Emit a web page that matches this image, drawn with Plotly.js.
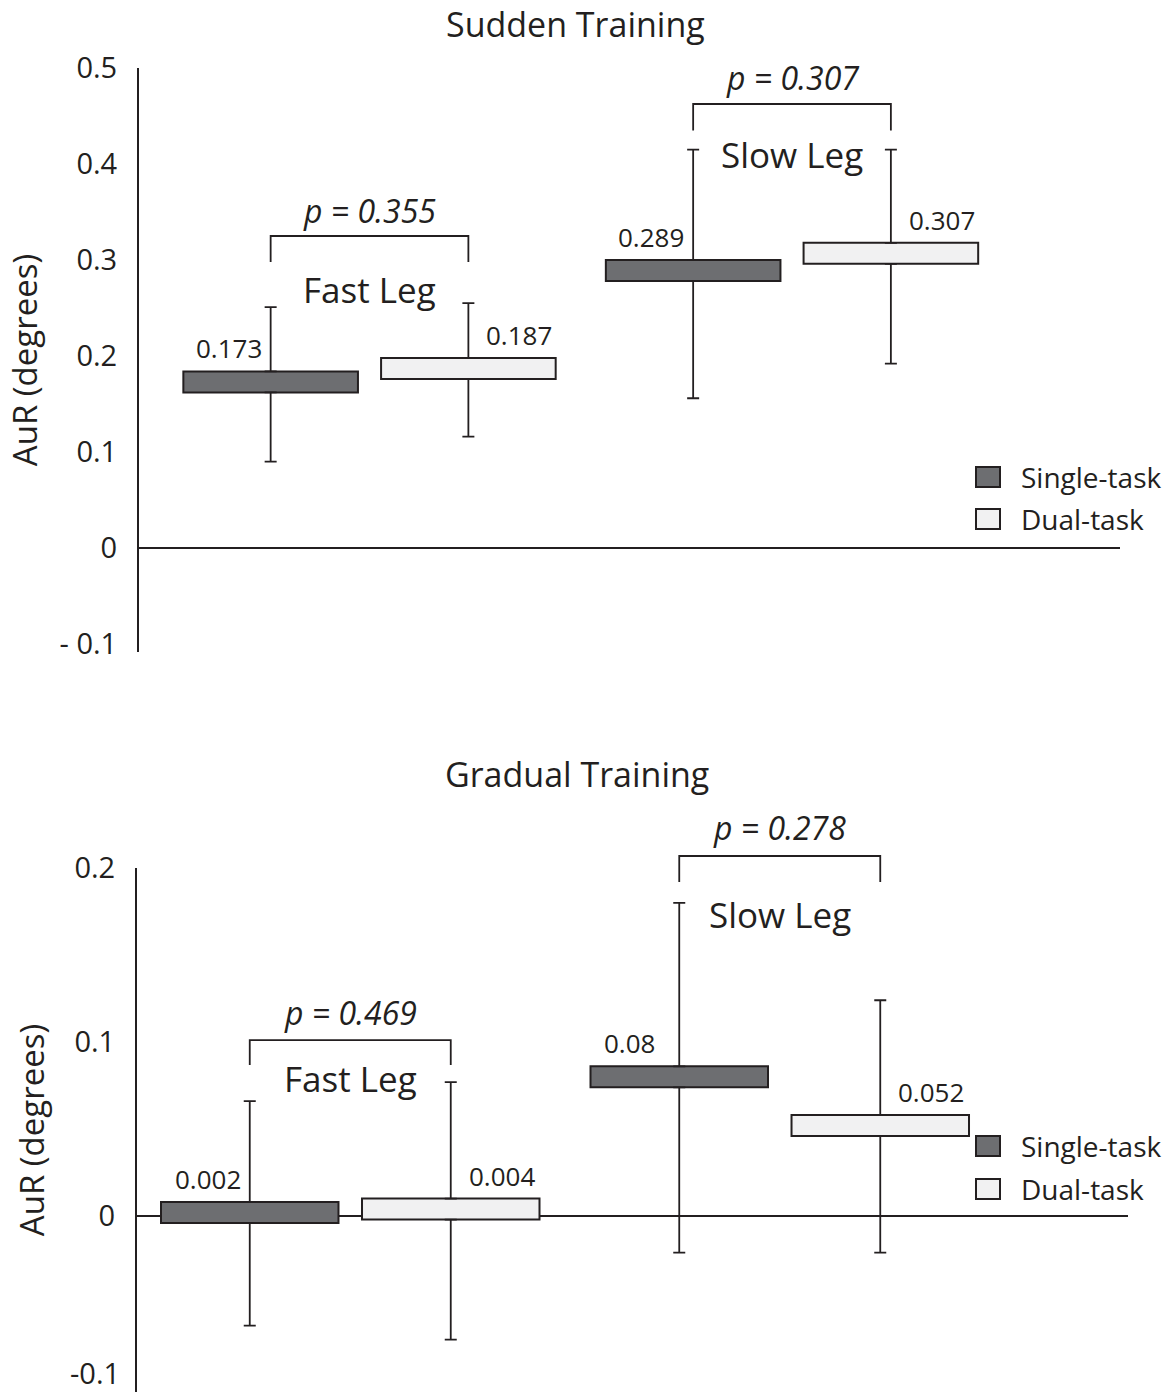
<!DOCTYPE html>
<html>
<head>
<meta charset="utf-8">
<script src="https://cdn.plot.ly/plotly-3.0.1.min.js"></script>
<style>
  html, body { margin: 0; padding: 0; background: #ffffff; }
  #chart { width: 1173px; height: 1397px; }
</style>
</head>
<body>
<div id="chart"></div>
<script>
// ---- data -------------------------------------------------------------
const legs = ["Fast Leg", "Slow Leg"];
const tasks = ["Single-task", "Dual-task"];
const panelTitles = ["Sudden Training", "Gradual Training"];

// Sudden training: mean AuR (degrees) and whisker ends
const suddenSingle = [0.173, 0.289];
const suddenDual = [0.187, 0.307];
const suddenSingleHigh = [0.251, 0.415];
const suddenSingleLow = [0.090, 0.156];
const suddenDualHigh = [0.255, 0.415];
const suddenDualLow = [0.116, 0.192];
const suddenP = ["0.355", "0.307"];

// Gradual training
const gradualSingle = [0.002, 0.08];
const gradualDual = [0.004, 0.052];
const gradualSingleHigh = [0.066, 0.180];
const gradualSingleLow = [-0.063, -0.021];
const gradualDualHigh = [0.077, 0.124];
const gradualDualLow = [-0.071, -0.021];
const gradualP = ["0.469", "0.278"];

// y tick labels
const suddenTickVals = [-0.1, 0, 0.1, 0.2, 0.3, 0.4, 0.5];
const suddenTickText = ["- 0.1", "0", "0.1", "0.2", "0.3", "0.4", "0.5"];
const gradualTickVals = [0, 0.1, 0.2];
const gradualTickText = ["0", "0.1", "0.2"];
// bottom-edge label of the gradual panel (lifted so it stays on the page)
const gradualEdgeTickVal = -0.1;
const gradualEdgeTickText = "-0.1";

// ---- styling / geometry ----------------------------------------------
const W = 1173, H = 1397;
const INK = "#231f20";
const FONT = "Open Sans, Noto Sans, sans-serif";
const FILL = { "Single-task": "#6d6e71", "Dual-task": "#f1f1f2" };
const BOX_PX = 21;               // box height in px (border excluded)
const BARGAP = 0.064, BARGROUPGAP = 0.117;
const OFF = (1 - BARGAP) / 4;    // centre offset of each box inside its leg group
const TICK_SIZE = 29;

const px2x = p => p / W;
const px2y = p => 1 - p / H;

const panels = [
  {
    suffix: "", title: panelTitles[0], titlePx: [575.5, 24],
    xPx: [139, 1120], yPx: [652, 68],
    xRange: [-0.5456, 1.7763], yRange: [-0.1083, 0.5],
    tickvals: suddenTickVals, ticktext: suddenTickText, titleStandoff: 12,
    series: [
      { task: tasks[0], mean: suddenSingle, hi: suddenSingleHigh, lo: suddenSingleLow },
      { task: tasks[1], mean: suddenDual, hi: suddenDualHigh, lo: suddenDualLow }
    ],
    p: suddenP,
    bracketTop: [0.325, 0.4625], bracketFoot: [0.298, 0.435],
    pY: [0.352, 0.4896], legY: [0.2688, 0.4094],
    legendPx: [477, 519]
  },
  {
    suffix: "2", title: panelTitles[1], titlePx: [576.5, 774],
    xPx: [137, 1128], yPx: [1392, 868],
    xRange: [-0.4965, 1.8108], yRange: [-0.1011, 0.2],
    tickvals: gradualTickVals, ticktext: gradualTickText, titleStandoff: 20,
    edgeTick: { val: gradualEdgeTickVal, text: gradualEdgeTickText, lift: 18 },
    series: [
      { task: tasks[0], mean: gradualSingle, hi: gradualSingleHigh, lo: gradualSingleLow },
      { task: tasks[1], mean: gradualDual, hi: gradualDualHigh, lo: gradualDualLow }
    ],
    p: gradualP,
    bracketTop: [0.1011, 0.2069], bracketFoot: [0.0868, 0.192],
    pY: [0.1172, 0.223], legY: [0.0793, 0.173],
    legendPx: [1146, 1189]
  }
];

const traces = [];
const shapes = [];
const annotations = [];
const layout = {
  width: W, height: H,
  margin: { l: 0, r: 0, t: 0, b: 0 },
  paper_bgcolor: "#ffffff", plot_bgcolor: "rgba(0,0,0,0)",
  font: { family: FONT, color: INK },
  showlegend: false,
  barmode: "group", bargap: BARGAP, bargroupgap: BARGROUPGAP,
  scattermode: "group", scattergap: BARGAP,
  shapes: shapes, annotations: annotations
};

panels.forEach(pn => {
  const xa = "x" + pn.suffix, ya = "y" + pn.suffix;
  const yDom = [px2y(pn.yPx[0]), px2y(pn.yPx[1])];
  const ySpan = pn.yRange[1] - pn.yRange[0];
  const halfH = BOX_PX / 2 * ySpan / (pn.yPx[0] - pn.yPx[1]);
  const toPaper = v => yDom[0] + (v - pn.yRange[0]) / ySpan * (yDom[1] - yDom[0]);

  layout["xaxis" + pn.suffix] = {
    domain: [px2x(pn.xPx[0]), px2x(pn.xPx[1])], anchor: ya,
    type: "category", categoryorder: "array", categoryarray: legs,
    range: pn.xRange, showline: false, showgrid: false, zeroline: false,
    showticklabels: false, ticks: "", fixedrange: true
  };
  layout["yaxis" + pn.suffix] = {
    domain: yDom, anchor: xa, range: pn.yRange,
    showline: true, linecolor: INK, linewidth: 2,
    showgrid: false, zeroline: true, zerolinecolor: INK, zerolinewidth: 2,
    ticks: "", tickvals: pn.tickvals, ticktext: pn.ticktext,
    tickfont: { size: TICK_SIZE, color: INK }, ticklabelstandoff: 14,
    ticklabeloverflow: "allow",
    title: { text: "AuR (degrees)", font: { size: 33, color: INK }, standoff: pn.titleStandoff },
    fixedrange: true
  };

  if (pn.edgeTick) {
    annotations.push({
      xref: "paper", yref: ya, x: px2x(pn.xPx[0] - 15), y: pn.edgeTick.val,
      text: pn.edgeTick.text, showarrow: false, xanchor: "right", yanchor: "middle",
      yshift: pn.edgeTick.lift, font: { size: TICK_SIZE, color: INK }
    });
  }

  pn.series.forEach((s, k) => {
    const grp = s.task + pn.suffix;
    // box centred on the mean
    traces.push({
      type: "bar", name: s.task, x: legs,
      y: s.mean.map(() => 2 * halfH),
      base: s.mean.map(v => v - halfH),
      xaxis: xa, yaxis: ya, offsetgroup: grp, alignmentgroup: "g" + pn.suffix,
      marker: { color: FILL[s.task], line: { color: INK, width: 2 } },
      customdata: s.mean,
      hovertemplate: "%{x}<br>" + s.task + ": %{customdata}<extra></extra>"
    });
    // upper whisker from the box top
    traces.push({
      type: "scatter", mode: "markers", name: s.task + " upper", x: legs,
      y: s.mean.map(v => v + halfH),
      xaxis: xa, yaxis: ya, offsetgroup: grp, alignmentgroup: "g" + pn.suffix,
      marker: { size: 1, opacity: 0 }, hoverinfo: "skip",
      error_y: { type: "data", symmetric: false,
        array: s.hi.map((h, i) => h - (s.mean[i] + halfH)),
        arrayminus: s.hi.map(() => 0),
        color: INK, thickness: 1.8, width: 6 }
    });
    // lower whisker from the box bottom
    traces.push({
      type: "scatter", mode: "markers", name: s.task + " lower", x: legs,
      y: s.mean.map(v => v - halfH),
      xaxis: xa, yaxis: ya, offsetgroup: grp, alignmentgroup: "g" + pn.suffix,
      marker: { size: 1, opacity: 0 }, hoverinfo: "skip",
      error_y: { type: "data", symmetric: false,
        array: s.lo.map(() => 0),
        arrayminus: s.lo.map((l, i) => (s.mean[i] - halfH) - l),
        color: INK, thickness: 1.8, width: 6 }
    });
    // value labels above each box
    s.mean.forEach((v, i) => {
      annotations.push({
        xref: xa, yref: ya, x: i + (k === 0 ? -OFF : OFF), y: v + halfH,
        text: String(v), showarrow: false,
        xanchor: "left", yanchor: "bottom",
        xshift: k === 0 ? -77 : 16, yshift: 3,
        font: { size: 26, color: INK }
      });
    });
  });

  // significance brackets, p-values and leg names
  legs.forEach((leg, i) => {
    const xL = i - OFF, xR = i + OFF;
    const yT = toPaper(pn.bracketTop[i]), yF = toPaper(pn.bracketFoot[i]);
    shapes.push({
      type: "path", xref: xa, yref: "paper",
      path: `M ${xL},${yF} L ${xL},${yT} L ${xR},${yT} L ${xR},${yF}`,
      line: { color: INK, width: 1.8 }
    });
    annotations.push({
      xref: xa, yref: "paper", x: i, y: toPaper(pn.pY[i]),
      text: "<i>p = " + pn.p[i] + "</i>", showarrow: false,
      xanchor: "center", yanchor: "middle",
      font: { size: 32, color: INK }
    });
    annotations.push({
      xref: xa, yref: "paper", x: i, y: toPaper(pn.legY[i]),
      text: leg, showarrow: false, xanchor: "center", yanchor: "middle",
      font: { size: 35, color: INK }
    });
  });

  // panel title
  annotations.push({
    xref: "paper", yref: "paper", x: px2x(pn.titlePx[0]), y: px2y(pn.titlePx[1]),
    text: pn.title, showarrow: false, xanchor: "center", yanchor: "middle",
    font: { size: 34, color: INK }
  });

  // legend swatches and labels
  tasks.forEach((t, k) => {
    const cy = pn.legendPx[k];
    shapes.push({
      type: "rect", xref: "paper", yref: "paper",
      x0: px2x(976), x1: px2x(1000), y0: px2y(cy + 10), y1: px2y(cy - 10),
      fillcolor: FILL[t], line: { color: INK, width: 2 }
    });
    annotations.push({
      xref: "paper", yref: "paper", x: px2x(1019), y: px2y(cy),
      text: t, showarrow: false, xanchor: "left", yanchor: "middle",
      font: { size: 28, color: INK }
    });
  });
});

Plotly.newPlot("chart", traces, layout, { staticPlot: true, displayModeBar: false });
</script>
</body>
</html>
